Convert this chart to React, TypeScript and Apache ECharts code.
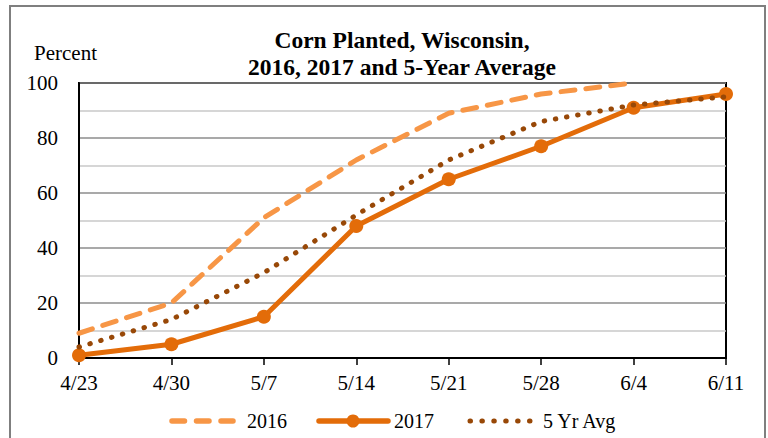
import React, { useEffect, useRef } from "react";
import * as echarts from "echarts";

const categories = ["4/23", "4/30", "5/7", "5/14", "5/21", "5/28", "6/4", "6/11"];
const y2016 = [9, 20, 51, 72, 89, 96, 100, null];
const y2017 = [1, 5, 15, 48, 65, 77, 91, 96];
const yAvg = [4, 14, 31, 52, 72, 86, 92, 95];
const seriesNames = ["2016", "2017", "5 Yr Avg"];

const FONT = "Liberation Serif, Times New Roman, serif";
const C2016 = "#F79646";
const C2017 = "#E36C09";
const CAVG = "#984807";

export default function App() {
  const ref = useRef<HTMLDivElement>(null);
  useEffect(() => {
    const chart = echarts.init(ref.current!, null, { renderer: "svg" });
    const ly = 421;
    const legendText = (x: number, t: string) => ({
      type: "text",
      x,
      y: ly,
      style: { text: t, fontFamily: FONT, fontSize: 20, fill: "#000", verticalAlign: "middle" },
    });
    chart.setOption({
      animation: false,
      textStyle: { fontFamily: FONT },
      grid: {
        left: 79,
        right: 42,
        top: 83,
        bottom: 80,
        show: true,
        borderColor: "#000",
        borderWidth: 2,
        backgroundColor: "transparent",
      },
      graphic: [
        {
          type: "rect",
          shape: { x: 10, y: 6, width: 755, height: 445 },
          style: { fill: "none", stroke: "#7f7f7f", lineWidth: 2 },
          silent: true,
        },
        {
          type: "text",
          x: 402,
          y: 26,
          style: {
            text: "Corn Planted, Wisconsin,\n2016, 2017 and 5-Year Average",
            align: "center",
            verticalAlign: "top",
            fontFamily: FONT,
            fontSize: 23.5,
            fontWeight: "bold",
            lineHeight: 27,
            fill: "#000",
          },
        },
        {
          type: "text",
          x: 34,
          y: 53,
          style: { text: "Percent", fontFamily: FONT, fontSize: 21, fill: "#000", verticalAlign: "middle" },
        },
        // legend
        {
          type: "line",
          shape: { x1: 172, y1: ly, x2: 233, y2: ly },
          style: { stroke: C2016, lineWidth: 5.5, lineDash: [12.5, 12], lineCap: "round" },
        },
        legendText(247, seriesNames[0]),
        {
          type: "line",
          shape: { x1: 319, y1: ly, x2: 388, y2: ly },
          style: { stroke: C2017, lineWidth: 5.5, lineCap: "round" },
        },
        {
          type: "circle",
          shape: { cx: 353, cy: ly, r: 6.5 },
          style: { fill: C2017 },
        },
        legendText(394, seriesNames[1]),
        {
          type: "line",
          shape: { x1: 470, y1: ly, x2: 531, y2: ly },
          style: { stroke: CAVG, lineWidth: 5, lineDash: [0.5, 11.4], lineCap: "round" },
        },
        legendText(543, seriesNames[2]),
      ],
      xAxis: {
        type: "category",
        data: categories,
        boundaryGap: false,
        axisLine: { lineStyle: { color: "#000", width: 2 } },
        axisTick: { show: true, length: 7, lineStyle: { color: "#000", width: 1.5 } },
        axisLabel: { color: "#000", fontSize: 21, fontFamily: FONT, margin: 14 },
        splitLine: { show: false },
      },
      yAxis: {
        type: "value",
        min: 0,
        max: 100,
        interval: 20,
        axisLine: { show: true, lineStyle: { color: "#000", width: 2 } },
        axisTick: { show: false },
        axisLabel: { color: "#000", fontSize: 21, fontFamily: FONT, margin: 21 },
        splitLine: { show: true, lineStyle: { color: "#8c8c8c", width: 1.5 } },
        minorTick: { show: false, splitNumber: 2 },
        minorSplitLine: { show: true, lineStyle: { color: "#c8c8c8", width: 1.5 } },
      },
      series: [
        {
          name: seriesNames[0],
          type: "line",
          data: y2016,
          symbol: "none",
          color: C2016,
          lineStyle: { color: C2016, width: 5, type: [14, 11], cap: "round" },
          z: 2,
        },
        {
          name: seriesNames[1],
          type: "line",
          data: y2017,
          symbol: "circle",
          symbolSize: 14,
          color: C2017,
          itemStyle: { color: C2017 },
          lineStyle: { color: C2017, width: 5 },
          z: 3,
        },
        {
          name: seriesNames[2],
          type: "line",
          data: yAvg,
          symbol: "none",
          color: CAVG,
          lineStyle: { color: CAVG, width: 5, type: [0.5, 10.8], cap: "round" },
          z: 4,
        },
      ],
    });
    return () => chart.dispose();
  }, []);
  return (
    <div
      ref={ref}
      style={{ position: "fixed", left: 0, top: 0, width: 768, height: 438, background: "#fff" }}
    />
  );
}
